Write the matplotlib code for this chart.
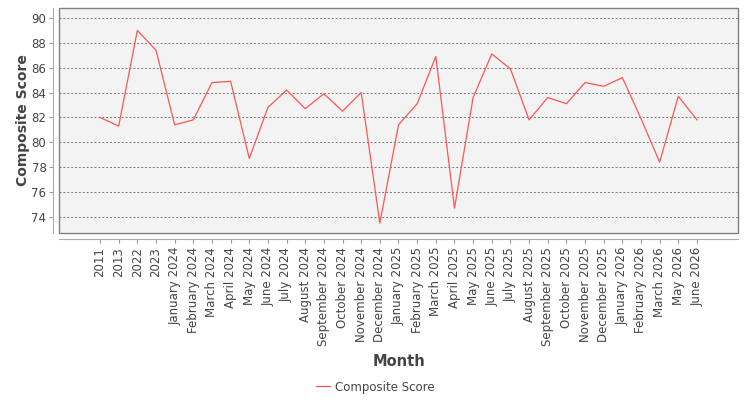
import matplotlib.pyplot as plt
from matplotlib.patches import Rectangle

months = ['2011', '2013', '2022', '2023',
          'January 2024', 'February 2024', 'March 2024', 'April 2024', 'May 2024',
          'June 2024', 'July 2024', 'August 2024', 'September 2024', 'October 2024',
          'November 2024', 'December 2024',
          'January 2025', 'February 2025', 'March 2025', 'April 2025', 'May 2025',
          'June 2025', 'July 2025', 'August 2025', 'September 2025', 'October 2025',
          'November 2025', 'December 2025',
          'January 2026', 'February 2026', 'March 2026', 'May 2026', 'June 2026']
scores = [82.0, 81.3, 89.0, 87.4,
          81.4, 81.8, 84.8, 84.9, 78.7,
          82.8, 84.2, 82.7, 83.9, 82.5,
          84.0, 73.5,
          81.4, 83.1, 86.9, 74.7, 83.6,
          87.1, 85.9, 81.8, 83.6, 83.1,
          84.8, 84.5,
          85.2, 81.9, 78.4, 83.7, 81.8]

fig = plt.figure(figsize=(7.5, 4), dpi=100)
ax = fig.add_axes([59 / 750, 1 - 233 / 400, 679 / 750, 225 / 400])
ax.set_facecolor('#f3f3f3')

# offset axis lines first (set_position resets tick label styling)
for s in ['top', 'right']:
    ax.spines[s].set_visible(False)
for s in ['left', 'bottom']:
    ax.spines[s].set_position(('outward', 4))
    ax.spines[s].set_color('#aaaaaa')
ax.add_patch(Rectangle((0, 0), 1, 1, transform=ax.transAxes, fill=False,
                       edgecolor='#808080', lw=1.0, clip_on=False, zorder=5))

x = list(range(len(months)))
ax.plot(x, scores, color='#ff5555', lw=0.9, label='Composite Score')

ax.set_xlim(-2.2, len(months) - 1 + 2.2)
ax.set_ylim(72.7, 90.8)
ax.set_yticks(range(74, 91, 2))
ax.set_xticks(x)
ax.set_xticklabels(months, rotation=90, fontsize=8.5, color='#444444')
ax.tick_params(axis='y', labelsize=8.5, labelcolor='#444444', length=3, color='#999999', pad=2)
ax.tick_params(axis='x', length=3, color='#999999', pad=3)

ax.grid(axis='y', linestyle=(0, (2, 2)), color='#777777', lw=0.7)
ax.set_axisbelow(True)

ax.set_ylabel('Composite Score', fontsize=10, fontweight='bold', color='#444444', labelpad=1)
ax.set_xlabel('Month', fontsize=10.5, fontweight='bold', color='#444444', labelpad=6)

fig.legend(loc='center', bbox_to_anchor=(0.5, 1 - 387 / 400), frameon=False,
           fontsize=8.5, handlelength=1.2, handletextpad=0.4, labelcolor='#444444')

fig.savefig('out.png', dpi=100)
